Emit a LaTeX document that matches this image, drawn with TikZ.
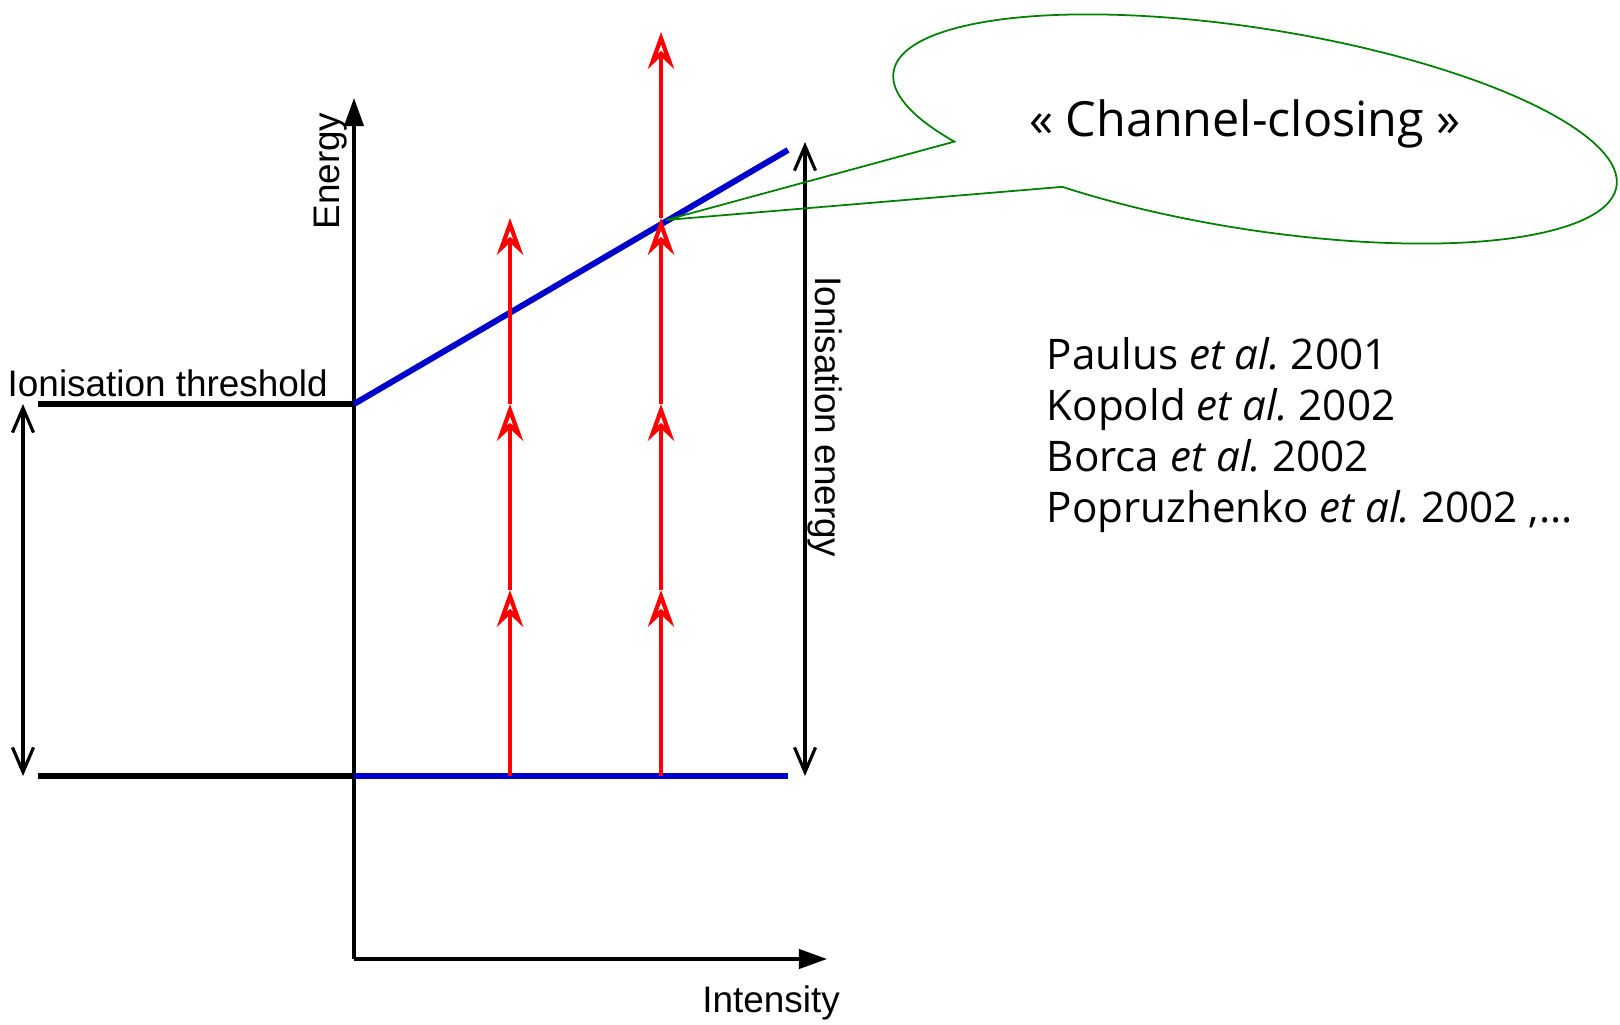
\documentclass[tikz,border=0pt]{standalone}
\usepackage{fontspec}
\setmainfont{Liberation Sans}
\newfontfamily\comicfont{Open Sans}
\usetikzlibrary{arrows.meta,calc}

\begin{document}
\begin{tikzpicture}[
  every node/.style={font=\fontsize{10.5}{12}\selectfont, inner sep=0pt},
  axis/.style={line width=0.9pt, -{Triangle[length=8pt,width=5.5pt]}},
  level/.style={line width=1.5pt},
  bluelevel/.style={line width=1.7pt, blue!80!black},
  photon/.style={line width=1.2pt, red, -{Stealth[open,length=10.5pt,width=7.5pt,inset=3.5pt]}},
  gap/.style={line width=0.9pt, {Straight Barb[length=7pt,width=6pt]}-{Straight Barb[length=7pt,width=6pt]}},
  bubble/.style={draw=green!50!black, line width=0.5pt},
  comic/.style={font=\comicfont\fontsize{12}{14}\selectfont, anchor=base west}
]
  \useasboundingbox[fill=white] (0,0) rectangle (16.2,10.24);
  \def\gnd{2.48}
  \def\thr{6.20}
  \def\ph{1.86}
  % axes
  \coordinate (O) at (3.54,0.65);
  \coordinate (Etop) at (3.54,9.26);
  \coordinate (Iend) at (8.27,0.65);
  \draw[axis] (O) -- (Etop);
  \draw[axis] (O) -- (Iend);
  \node[rotate=90] (energy) at (3.31,8.53) {Energy};
  \node[anchor=base] (intensity) at (7.71,0.12) {Intensity};
  % levels
  \coordinate (thrL) at (0.38,\thr);
  \coordinate (thrR) at (3.54,\thr);
  \coordinate (gndL) at (0.38,\gnd);
  \coordinate (gndR) at (3.54,\gnd);
  \coordinate (gndE) at (7.88,\gnd);
  \coordinate (thrE) at (7.88,8.74);
  \draw[level] (thrL) -- (thrR);
  \draw[level] (gndL) -- (gndR);
  \draw[bluelevel] (gndR) -- (gndE);
  \draw[bluelevel] (thrR) -- (thrE);
  \node[anchor=base west] (thrlabel) at (0.07,6.28) {Ionisation threshold};
  % photons
  \foreach \x/\n [count=\c] in {5.10/3, 6.61/4} {
    \coordinate (p\c-0) at (\x,\gnd);
    \foreach \k in {1,...,\n} {
      \coordinate (p\c-\k) at (\x,\gnd+\k*\ph);
      \pgfmathtruncatemacro\j{\k-1}
      \draw[photon] (p\c-\j) -- (p\c-\k);
    }
  }
  % energy gaps
  \coordinate (gapL1) at (0.23,\gnd);
  \coordinate (gapL2) at (0.23,\thr);
  \coordinate (gapR1) at (8.05,\gnd);
  \coordinate (gapR2) at (8.05,8.82);
  \draw[gap] (gapL1) -- (gapL2);
  \draw[gap] (gapR1) -- (gapR2);
  \node[rotate=-90] (ionE) at (8.25,6.07) {Ionisation energy};
  % callout
  \coordinate (tip) at (6.66,8.04);
  \begin{scope}[shift={(12.55,8.95)}, rotate=-9]
    \draw[bubble] (240.3:3.66 and 1.005) arc[start angle=240.3, end angle=576.3, x radius=3.66, y radius=1.005] -- (tip) -- cycle;
  \end{scope}
  \node[font=\comicfont\fontsize{13.8}{16}\selectfont, anchor=base] (title) at (12.45,8.87) {« Channel-closing »};
  % references
  \foreach \name/\yr [count=\i] in {Paulus/2001, Kopold/2002, Borca/2002, Popruzhenko/{2002 ,...}} {
    \node[comic] (ref\i) at (10.46,7.06-0.51*\i) {\name{} \textit{et al.}\ \yr};
  }
\end{tikzpicture}
\end{document}
